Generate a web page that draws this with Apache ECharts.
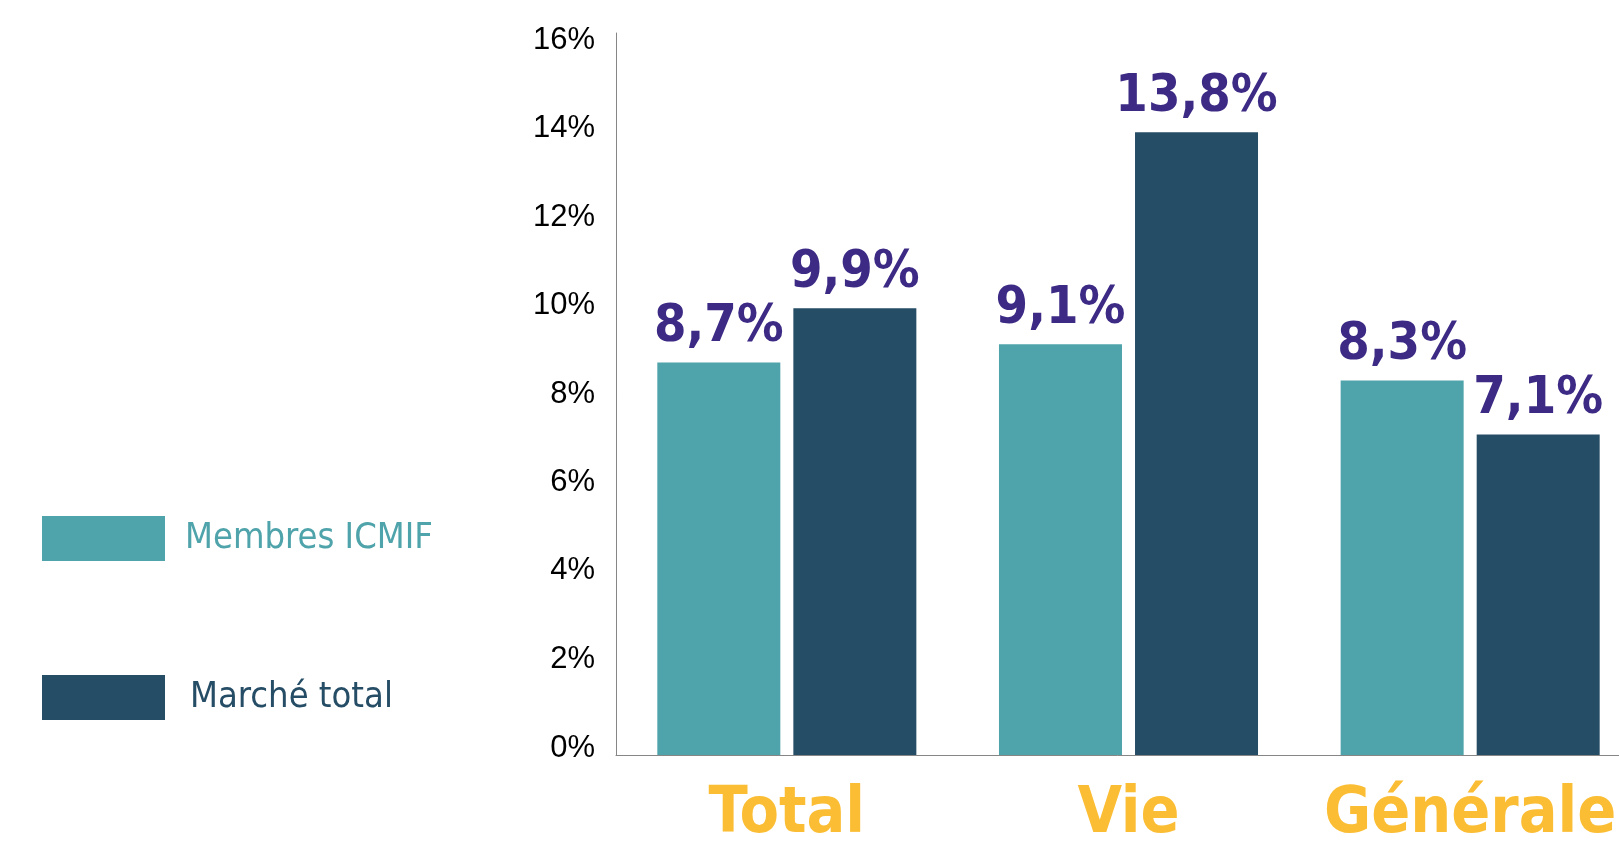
<!DOCTYPE html>
<html>
<head>
<meta charset="utf-8">
<script src="https://cdn.jsdelivr.net/npm/echarts@6/dist/echarts.min.js"></script>
<style>
  html, body { margin: 0; padding: 0; background: #fff; }
</style>
</head>
<body>
<!-- 图表容器 -->
<div id="main" style="width: 1619px;height:845px;"></div>
<script>
var categories = ['Total', 'Vie', 'Générale']
var membres = [8.7, 9.1, 8.3]
var marche = [9.9, 13.8, 7.1]
var yTicks = [0, 2, 4, 6, 8, 10, 12, 14, 16]

var narrow = '"DejaVu Sans Condensed", "Liberation Sans", sans-serif'

function pct(p) {
  return p.value.toFixed(1).replace('.', ',') + '%'
}

// tick labels sit a bit closer to the middle than the gridline in the original
var tickRich = {}
yTicks.forEach(function (v) {
  var d = Math.round((v - 8) * 0.9)
  tickRich['t' + v] = {
    color: '#000',
    fontFamily: '"Liberation Sans", Arial, sans-serif',
    fontSize: 31,
    padding: d > 0 ? [2 * d, 0, 0, 0] : [0, 0, -2 * d, 0]
  }
})

var myChart = echarts.init(document.getElementById('main'))

var labelStyle = {
  show: true,
  position: 'top',
  distance: 9,
  formatter: pct,
  color: '#3c2a85',
  fontFamily: narrow,
  fontWeight: 'bold',
  fontSize: 52
}

var option = {
  animation: false,
  legend: {
    orient: 'vertical',
    left: 37,
    top: 511,
    itemWidth: 123,
    itemHeight: 45,
    itemGap: 114,
    icon: 'rect',
    textStyle: {
      fontFamily: narrow,
      fontSize: 36,
      padding: [0, 0, 0, 15]
    },
    data: [
      { name: 'Membres ICMIF', textStyle: { color: '#4fa3aa' } },
      { name: 'Marché total', textStyle: { color: '#264d66', padding: [0, 0, 0, 20] } }
    ]
  },
  grid: {
    left: 616,
    top: 33,
    bottom: 90,
    width: 1025,
    outerBoundsMode: 'none'
  },
  xAxis: {
    type: 'category',
    data: categories,
    axisLine: { lineStyle: { color: '#868686', width: 1 } },
    axisTick: { show: false },
    axisLabel: {
      interval: 0,
      hideOverlap: false,
      margin: 28,
      color: '#fbbd33',
      fontFamily: narrow,
      fontWeight: 'bold',
      fontSize: 64
    }
  },
  yAxis: {
    type: 'value',
    min: yTicks[0],
    max: yTicks[yTicks.length - 1],
    interval: 2,
    splitLine: { show: false },
    axisLine: { show: true, lineStyle: { color: '#868686', width: 1 } },
    axisTick: { show: false },
    axisLabel: {
      margin: 21,
      formatter: function (v) { return '{t' + v + '|' + v + '%}' },
      rich: tickRich
    }
  },
  series: [
    {
      name: 'Membres ICMIF',
      type: 'bar',
      barWidth: 123,
      barGap: '10.6%',
      data: membres,
      itemStyle: { color: '#4fa3aa' },
      label: labelStyle
    },
    {
      name: 'Marché total',
      type: 'bar',
      barWidth: 123,
      barGap: '10.6%',
      data: marche,
      itemStyle: { color: '#264d66' },
      label: labelStyle
    }
  ]
}

option && myChart.setOption(option)
</script>
</body>
</html>
